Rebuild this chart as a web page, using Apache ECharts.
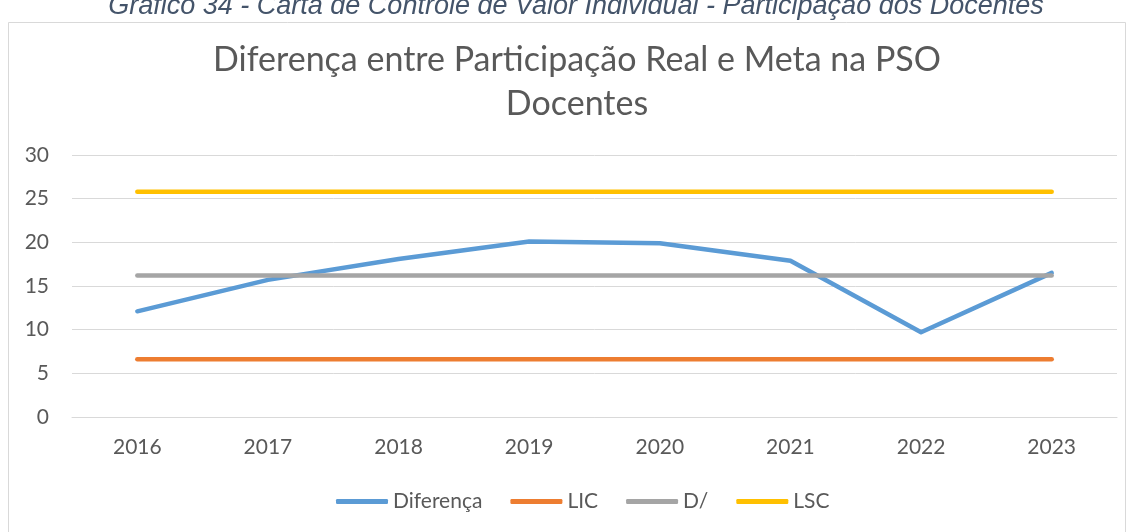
<!DOCTYPE html>
<html>
<head>
<meta charset="utf-8">
<script src="https://cdn.jsdelivr.net/npm/echarts@6/dist/echarts.min.js"></script>
<style>
  html, body { margin: 0; padding: 0; background: #ffffff; }
  #chart { width: 1134px; height: 532px; }
</style>
</head>
<body>
<div id="chart"></div>
<script>
// Years on the horizontal axis
const anos = ['2016', '2017', '2018', '2019', '2020', '2021', '2022', '2023'];
// Difference between real participation and target (docentes)
const diferenca = [12.1, 15.7, 18.1, 20.1, 19.9, 17.9, 9.7, 16.5];
// Lower control limit
const lic = [6.6, 6.6, 6.6, 6.6, 6.6, 6.6, 6.6, 6.6];
// Mean line
const media = [16.2, 16.2, 16.2, 16.2, 16.2, 16.2, 16.2, 16.2];
// Upper control limit
const lsc = [25.8, 25.8, 25.8, 25.8, 25.8, 25.8, 25.8, 25.8];
// Value axis ticks
const yTicks = [0, 5, 10, 15, 20, 25, 30];

const FONT = 'Lato, "Noto Sans", sans-serif';
const TXT = '#595959';

const chart = echarts.init(document.getElementById('chart'), null, { renderer: 'canvas' });

function lineSeries(name, data, color) {
  return {
    name: name,
    type: 'line',
    data: data,
    showSymbol: false,
    symbol: 'none',
    lineStyle: { color: color, width: 4.5, cap: 'round', join: 'round' },
    itemStyle: { color: color },
    emphasis: { disabled: true },
    animation: false
  };
}

chart.setOption({
  backgroundColor: '#ffffff',
  animation: false,
  graphic: [
    {
      type: 'text',
      x: 576,
      y: -7,
      style: {
        text: 'Gráfico 34 - Carta de Controle de Valor Individual - Participação dos Docentes',
        font: 'italic 27px "Liberation Sans", Arial, sans-serif',
        fill: '#44546a',
        align: 'center',
        verticalAlign: 'top'
      },
      silent: true
    },
    {
      type: 'rect',
      shape: { x: 8.5, y: 22.5, width: 1117, height: 530 },
      style: { fill: 'none', stroke: '#d9d9d9', lineWidth: 1 },
      silent: true,
      z: -1
    },
    {
      // chart title, two centred lines
      type: 'text',
      x: 577,
      y: 38,
      style: {
        text: 'Diferença entre Participação Real e Meta na PSO\nDocentes',
        fontFamily: FONT,
        fontSize: 34,
        lineHeight: 44,
        fill: TXT,
        align: 'center',
        verticalAlign: 'top'
      },
      silent: true
    }
  ],
  legend: {
    bottom: 15,
    left: 331,
    itemWidth: 52,
    itemHeight: 5,
    itemGap: 28,
    icon: 'roundRect',
    textStyle: { fontFamily: FONT, fontSize: 21, color: TXT },
    data: ['Diferença', 'LIC', 'D/', 'LSC']
  },
  grid: { left: 72, right: 17, top: 155, bottom: 115, containLabel: false },
  xAxis: {
    type: 'category',
    data: anos,
    boundaryGap: true,
    axisLine: { show: true, lineStyle: { color: '#d9d9d9', width: 1 } },
    axisTick: { show: false },
    axisLabel: { fontFamily: FONT, fontSize: 21, color: TXT, margin: 20 },
    splitLine: { show: false }
  },
  yAxis: {
    type: 'value',
    min: yTicks[0],
    max: yTicks[yTicks.length - 1],
    interval: 5,
    axisLine: { show: false },
    axisTick: { show: false },
    axisLabel: { fontFamily: FONT, fontSize: 21, color: TXT, margin: 23 },
    splitLine: { show: true, lineStyle: { color: '#d9d9d9', width: 1 } }
  },
  series: [
    lineSeries('Diferença', diferenca, '#5b9bd5'),
    lineSeries('LIC', lic, '#ed7d31'),
    lineSeries('D/', media, '#a5a5a5'),
    lineSeries('LSC', lsc, '#ffc000')
  ]
});
</script>
</body>
</html>
